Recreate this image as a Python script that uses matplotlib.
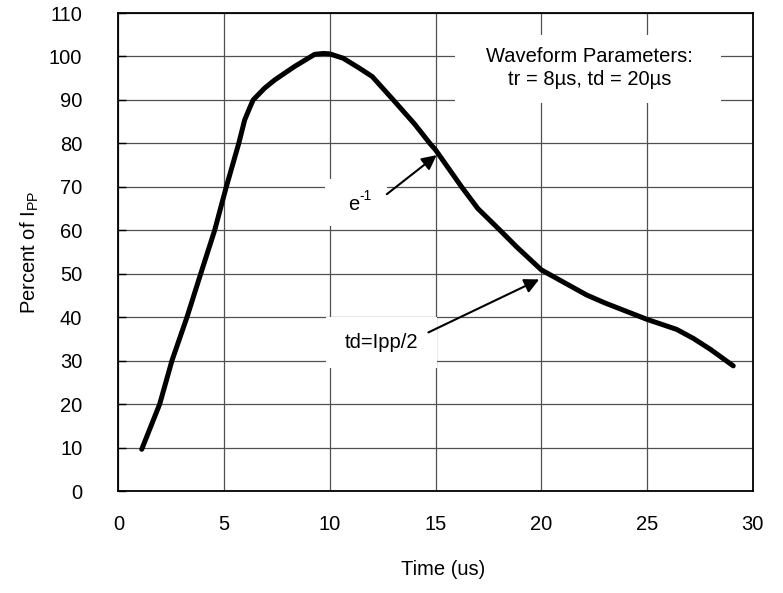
import matplotlib
matplotlib.use("Agg")
import matplotlib.pyplot as plt
from matplotlib.patches import Rectangle

plt.rcParams['font.family'] = ['Liberation Sans', 'DejaVu Sans']

# waveform (time in us, percent of Ipp)
time_us = [1.1, 1.95, 2.53, 3.24, 3.89, 4.55, 5.1, 5.69, 5.97, 6.2, 6.37, 6.91,
           7.39, 8.33, 9.28, 9.7, 10.0, 10.63, 11.4, 12.0, 13.0, 14.0, 14.73,
           15.0, 16.23, 17.0, 18.05, 18.83, 20.0, 21.0, 22.15, 23.0, 24.0,
           25.0, 26.4, 27.2, 28.0, 29.08]
percent = [9.6, 20, 30, 40, 50, 60, 70, 80, 85.4, 88.1, 90, 92.7,
           94.6, 97.7, 100.5, 100.7, 100.6, 99.6, 97.3, 95.4, 90, 84.5, 80,
           78.5, 70, 65, 60, 56.2, 50.9, 48.2, 45.1, 43.3, 41.4,
           39.5, 37.2, 35.1, 32.6, 28.8]

x_ticks = [0, 5, 10, 15, 20, 25, 30]
y_ticks = list(range(0, 111, 10))

fig = plt.figure(figsize=(7.83, 5.93), dpi=100)
ax = fig.add_axes([0.1513, 0.172, 0.81, 0.806])

ax.plot(time_us, percent, color='black', lw=3.6, solid_capstyle='round',
        solid_joinstyle='round', zorder=3)

ax.set_xlim(0, 30)
ax.set_ylim(0, 110)
ax.set_xticks(x_ticks)
ax.set_yticks(y_ticks)
ax.grid(True, color='#505050', lw=0.9)
ax.set_axisbelow(True)
for s in ax.spines.values():
    s.set_color('black')
    s.set_linewidth(1.3)
ax.tick_params(axis='y', direction='in', length=6, width=1, labelsize=14.5, pad=26)
ax.tick_params(axis='x', length=0, labelsize=14.5, pad=17)

ax.set_xlabel('Time (us)', fontsize=14.5, labelpad=23)
ax.xaxis.set_label_coords(0.512, -0.145)
ax.set_ylabel('Percent of I$_{\\mathregular{PP}}$', fontsize=14.5, labelpad=6)

# white panels behind the labels (they hide the grid)
for x0, y0, w, h in [(15.92, 89.3, 12.58, 15.6), (9.77, 61.0, 2.93, 10.8),
                     (9.82, 28.3, 5.25, 11.7)]:
    ax.add_patch(Rectangle((x0, y0), w, h, fc='white', ec='none', zorder=2))

ax.text(22.3, 97.4, 'Waveform Parameters:\ntr = 8\u00b5s, td = 20\u00b5s',
        ha='center', va='center', fontsize=14.5, linespacing=1.25, zorder=4)

ax.text(11.15, 66.0, 'e', ha='center', va='center', fontsize=14.5, zorder=4)
ax.text(11.4, 68.0, '-1', ha='left', va='center', fontsize=10, zorder=4)
ax.annotate('', xy=(15.05, 77.3), xytext=(12.69, 68.3),
            arrowprops=dict(arrowstyle='-|>', color='black', lw=1.5,
                            mutation_scale=22, shrinkA=0, shrinkB=0),
            zorder=4)

ax.text(12.44, 34.2, 'td=Ipp/2', ha='center', va='center', fontsize=14.5,
        zorder=4)
ax.annotate('', xy=(19.9, 48.7), xytext=(14.66, 36.5),
            arrowprops=dict(arrowstyle='-|>', color='black', lw=1.5,
                            mutation_scale=22, shrinkA=0, shrinkB=0),
            zorder=4)

fig.savefig('out.png', dpi=100)
